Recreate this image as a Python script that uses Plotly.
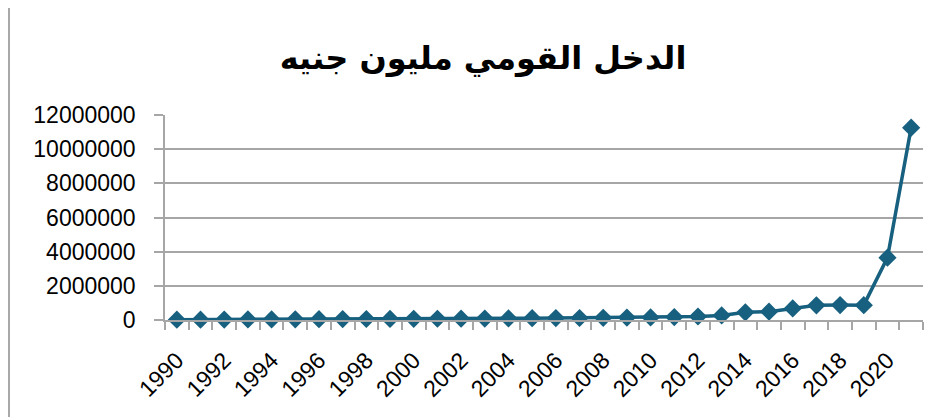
import plotly.graph_objects as go

years = list(range(1990, 2022))
income = [18500, 21300, 26800, 31200, 35900, 41700, 47300, 52600, 58100, 63900,
          68400, 73200, 77800, 84600, 93500, 104000, 110000, 118000, 126000, 140000,
          152000, 170000, 205000, 270000, 450000, 490000, 680000, 860000, 875000, 870000,
          3650000, 11260000]
y_ticks = [0, 2000000, 4000000, 6000000, 8000000, 10000000, 12000000]
x_label_years = list(range(1990, 2021, 2))
title_text = "الدخل القومي مليون جنيه"

color = "#17607F"
grid = "#A6A6A6"

fig = go.Figure(go.Scatter(
    x=years, y=income, mode="lines+markers",
    line=dict(color=color, width=3.5),
    marker=dict(symbol="diamond", size=14, color=color),
    cliponaxis=False,
))

OFF = 8  # page body margin
W, H = 949 - OFF, 417 - OFF
L, T = 165 - OFF, 115 - OFF
R = W - (923 - OFF)
B = H - (320 - OFF)
pw, ph = W - L - R, H - T - B

fig.update_layout(
    width=W, height=H,
    margin=dict(l=L, r=R, t=T, b=B),
    paper_bgcolor="white", plot_bgcolor="white",
    showlegend=False,
    font=dict(family="Arial, Liberation Sans, sans-serif", color="black"),
    title=dict(text="<b>" + title_text + "</b>", x=(483 - OFF) / W, y=1 - (58 - OFF) / H,
               xanchor="center", yanchor="middle",
               font=dict(size=32, family="DejaVu Sans, Arial", color="black")),
    xaxis=dict(
        range=[1989.5, 2021.5],
        tickvals=x_label_years, ticktext=[str(v) for v in x_label_years],
        tickangle=-45, ticks="", showgrid=False,
        showline=True, linecolor=grid, linewidth=1.5,
        tickfont=dict(size=23),
        ticklabelstandoff=16,
        minor=dict(tick0=1989.5, dtick=1, ticks="outside", ticklen=8,
                   tickcolor=grid, tickwidth=1.5, showgrid=False),
        zeroline=False,
        automargin=False,
    ),
    yaxis=dict(
        range=[0, 12000000], tickvals=y_ticks, ticktext=[str(v) for v in y_ticks],
        showgrid=True, gridcolor=grid, gridwidth=1.5,
        showline=True, linecolor=grid, linewidth=1.5,
        ticks="outside", ticklen=9, tickcolor=grid, tickwidth=1.5,
        tickfont=dict(size=23),
        ticklabelstandoff=14,
        zeroline=False,
        automargin=False,
    ),
    shapes=[dict(type="rect", xref="paper", yref="paper",
                 x0=(9 - 165) / pw, x1=(949 + 10 - 165) / pw,
                 y0=(320 - (417 + 10)) / ph, y1=(320 - 5) / ph,
                 line=dict(color="#8C8C8C", width=1.5), fillcolor="rgba(0,0,0,0)")],
)

fig.write_html("out.html")
